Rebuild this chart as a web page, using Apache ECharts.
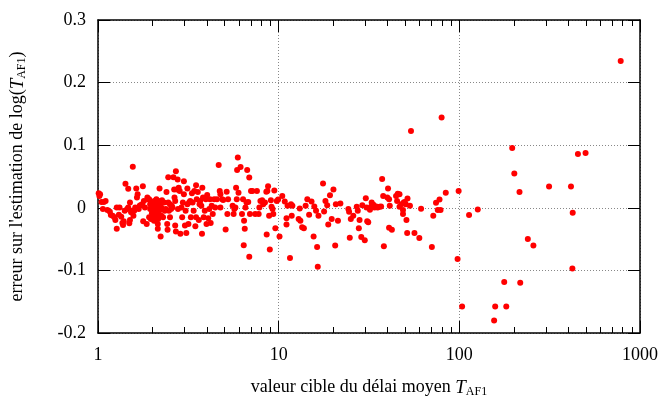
<!DOCTYPE html>
<html>
<head>
<meta charset="utf-8">
<script src="https://cdn.jsdelivr.net/npm/echarts@6/dist/echarts.min.js"></script>
<style>
  html, body { margin: 0; padding: 0; background: #fff; }
  #main { width: 663px; height: 403px; }
</style>
</head>
<body>
<div id="main"></div>
<script>
// valeur cible du délai moyen T_AF1 (axe x, log)
const targetDelay = [
  1.009, 1.027, 1.018, 1.045, 1.078, 1.102, 1.064, 1.127, 1.163, 1.178,
  1.205, 1.232, 1.248, 1.270, 1.270, 1.316, 1.305, 1.345, 1.364, 1.376,
  1.388, 1.406, 1.419, 1.451, 1.470, 1.470, 1.490, 1.503, 1.503, 1.524,
  1.544, 1.558, 1.571, 1.586, 1.607, 1.628, 1.643, 1.657, 1.680, 1.702,
  1.718, 1.756, 1.771, 1.779, 1.795, 1.819, 1.860, 1.876, 1.893, 1.919,
  1.919, 1.944, 1.962, 1.962, 1.979, 2.006, 2.006, 2.032, 2.050, 2.050,
  2.069, 2.096, 2.096, 2.124, 2.143, 2.143, 2.162, 2.191, 2.191, 2.221,
  2.240, 2.240, 2.261, 2.291, 2.321, 2.342, 2.373, 2.394, 2.416, 2.427,
  2.448, 2.448, 2.470, 2.503, 2.503, 2.537, 2.559, 2.582, 2.616, 2.640,
  2.651, 2.675, 2.675, 2.699, 2.699, 2.735, 2.759, 2.771, 2.796, 2.833,
  2.858, 2.897, 2.923, 2.949, 2.988, 2.988, 3.028, 3.055, 3.082, 3.123,
  3.123, 3.166, 3.194, 3.237, 3.266, 3.310, 3.339, 3.384, 3.414, 3.459,
  3.490, 3.490, 3.521, 3.568, 3.615, 3.648, 3.680, 3.730, 3.763, 3.780,
  3.813, 3.847, 3.899, 3.951, 3.986, 4.021, 4.075, 4.130, 4.167, 4.204,
  4.260, 4.317, 4.395, 4.454, 4.554, 4.656, 4.718, 4.760, 4.760, 4.867,
  4.932, 5.087, 5.155, 5.201, 5.248, 5.559, 5.634, 5.684, 5.760, 5.811,
  5.863, 5.888, 5.941, 5.994, 6.155, 6.266, 6.350, 6.406, 6.434, 6.491,
  6.549, 6.637, 6.695, 6.785, 6.875, 6.875, 6.936, 7.030, 7.155, 7.414,
  7.581, 7.750, 7.820, 7.924, 8.101, 8.210, 8.395, 8.546, 8.583, 8.659,
  8.737, 8.854, 8.932, 9.052, 9.132, 9.254, 9.337, 9.461, 9.587, 9.759,
  9.934, 10.11, 10.47, 10.81, 11.05, 11.05, 11.20, 11.55, 11.70, 11.81,
  11.91, 12.90, 13.08, 13.19, 13.49, 13.79, 14.10, 14.41, 14.74, 15.20,
  15.61, 15.75, 16.10, 16.32, 16.46, 16.61, 17.60, 17.84, 18.15, 18.56,
  18.81, 19.23, 19.66, 20.10, 20.55, 20.73, 21.29, 21.96, 24.31, 24.53,
  24.75, 25.08, 25.88, 27.05, 27.41, 27.78, 28.03, 28.66, 29.04, 29.96,
  30.36, 30.62, 30.90, 31.31, 32.01, 32.44, 32.73, 33.46, 33.91, 34.67,
  35.29, 36.24, 36.89, 37.39, 37.89, 38.22, 39.95, 40.30, 40.84, 40.84,
  41.21, 42.33, 44.64, 45.23, 45.63, 46.65, 46.65, 47.70, 48.77, 48.77,
  49.20, 49.86, 50.51, 50.97, 51.43, 51.66, 53.29, 54.0, 56.44, 60.06,
  61.42, 70.46, 71.74, 74.30, 75.98, 77.68, 78.71, 79.77, 84.13, 97.8,
  99.1, 103.6, 113.2, 126.5, 155.8, 157.9, 177.2, 181.9, 196.2, 201.5,
  215.3, 217.3, 239.4, 257.0, 313.8, 414.9, 422.3, 424.2, 453.3, 499.7,
  782,
  2.014, 2.032, 2.060, 2.078, 2.105, 2.124, 2.143, 2.172, 2.191, 2.211,
  1.988, 2.105, 2.153, 2.041, 2.270, 1.944, 2.087, 2.050
]

// erreur sur l'estimation de log(T_AF1) (axe y)
const estError = [
  0.0231, 0.0215, 0.0189, 0.0094, 0.0094, 0.0110, -0.0021, -0.0037, -0.0063, -0.0115,
  -0.0126, -0.0152, -0.0194, -0.0336, 0.0005, 0.0005, -0.0110, -0.0142, -0.0241, -0.0273,
  -0.0215, -0.0047, 0.0383, -0.0021, 0.0304, 0.0005, -0.0247, 0.0084, -0.0194, -0.0073,
  -0.0047, 0.0656, -0.0126, -0.0047, 0.0005, 0.0310, 0.0163, 0.0215, -0.0021, 0.0031,
  0.0042, 0.0058, 0.0346, -0.0215, 0.0110, 0.0005, -0.0257, 0.0163, 0.0136, -0.0152,
  0.0136, -0.0021, 0.0084, -0.0178, 0.0005, -0.0047, 0.0058, -0.0100, 0.0110, 0.0005,
  -0.0152, -0.0073, -0.0205, -0.0021, -0.0336, -0.0257, 0.0110, 0.0031, 0.0310, -0.0457,
  0.0005, -0.0126, 0.0121, -0.0152, 0.0084, -0.0047, -0.0021, 0.0252, -0.0257, -0.0352,
  0.0488, 0.0084, -0.0047, 0.0058, -0.0152, -0.0021, 0.0031, 0.0005, 0.0488, 0.0294,
  0.0163, 0.0110, -0.0283, 0.0583, -0.0378, 0.0294, 0.0451, -0.0021, 0.0320, 0.0268,
  -0.0415, 0.0005, -0.0152, 0.0084, 0.0425, 0.0215, -0.0283, -0.0047, -0.0404, 0.0058,
  0.0310, -0.0257, 0.0084, 0.0110, -0.0152, 0.0231, 0.0084, -0.0047, 0.0268, -0.0294,
  0.0362, -0.0152, 0.0136, 0.0252, -0.0194, 0.0058, 0.0110, 0.0031, -0.0415, 0.0320,
  0.0163, -0.0152, -0.0047, 0.0136, -0.0257, 0.0205, -0.0168, -0.0021, 0.0136, -0.0241,
  0.0031, -0.0100, 0.0136, 0.0005, 0.0136, 0.0682, 0.0268, 0.0215, 0.0005, 0.0136,
  0.0126, -0.0346, 0.0257, -0.0100, 0.0136, 0.0031, -0.0100, -0.0021, 0.0005, 0.0320,
  0.0136, 0.0604, 0.0803, 0.0241, 0.0651, -0.0100, 0.0136, -0.0598, -0.0205, -0.0336,
  0.0005, 0.0084, 0.0604, 0.0094, 0.0483, -0.0782, -0.0100, 0.0268, 0.0268, -0.0100,
  0.0268, -0.0100, 0.0005, 0.0110, 0.0121, 0.0058, 0.0084, 0.0257, -0.0425, 0.0268,
  0.0346, -0.0126, -0.0667, 0.0121, 0.0016, -0.0021, -0.0100, 0.0278, -0.0325, 0.0110,
  0.0131, -0.0457, 0.0189, 0.0100, -0.0168, -0.0268, 0.0031, -0.0803, 0.0058, -0.0126,
  0.0031, -0.0178, -0.0010, -0.0205, -0.0310, -0.0325, 0.0031, 0.0136, -0.0110, 0.0100,
  -0.0457, 0.0021, -0.0047, -0.0625, -0.0940, -0.0126, 0.0388, -0.0058, 0.0110, 0.0042,
  -0.0268, 0.0199, -0.0178, 0.0294, -0.0604, 0.0058, -0.0205, 0.0068, -0.0021, -0.0063,
  -0.0478, -0.0178, -0.0126, 0.0016, -0.0047, -0.0325, -0.0194, -0.0467, 0.0042, -0.0520,
  0.0152, 0.0005, -0.0215, -0.0231, -0.0031, 0.0016, 0.0084, 0.0047, 0.0005, 0.0021,
  0.0005, 0.0016, 0.0021, 0.0462, 0.0189, -0.0614, 0.0163, 0.0310, 0.0136, -0.0320,
  0.0031, -0.0352, 0.0189, 0.0110, 0.0226, 0.0215, 0.0016, 0.0058, -0.0037, -0.0100,
  0.0084, 0.0094, 0.0058, -0.0194, -0.0404, 0.0147, 0.0031, 0.1228, -0.0404, -0.0483,
  -0.0016, -0.0625, -0.0126, 0.0079, -0.0037, 0.0131, -0.0037, 0.1444, 0.0241, -0.0819,
  0.0268, -0.1575, -0.0115, -0.0026, -0.1800, -0.1575, -0.1186, -0.1575, 0.0955, 0.0546,
  0.0252, -0.1197, -0.0499, -0.0604, 0.0341, 0.0341, -0.0971, -0.0079, 0.0861, 0.0877,
  0.2346,
  -0.0021, -0.0037, 0.0031, -0.0126, -0.0100, 0.0058, -0.0047, -0.0100, -0.0037, 0.0084,
  -0.0089, 0.0136, -0.0178, -0.0205, -0.0021, 0.0058, -0.0021, -0.0110
]

// graduations mineures de l'axe log (2..9 par décade)
const minorTicks = [2, 3, 4, 5, 6, 7, 8, 9, 20, 30, 40, 50, 60, 70, 80, 90, 200, 300, 400, 500, 600, 700, 800, 900]

const points = targetDelay.map((x, i) => [x, estError[i]])

const font = 'Liberation Serif'
const black = '#000'
const frame = { show: true, onZero: false, lineStyle: { color: black, width: 1.5 } }
const tick = { show: true, inside: true, length: 12, lineStyle: { color: black, width: 1 } }
const gridLine = { show: true, lineStyle: { color: '#888', type: [1, 2], width: 1 } }
const nameRich = {
  i: { fontSize: 19, fontStyle: 'italic', fontFamily: font, color: black },
  s: { fontSize: 12, fontFamily: font, color: black, padding: [9, 0, 0, 0] }
}

const myChart = echarts.init(document.getElementById('main'))

const option = {
  animation: false,
  backgroundColor: '#fff',
  textStyle: { fontFamily: font },
  grid: { left: 97, right: 23, top: 20, bottom: 66 },
  xAxis: [
    {
      type: 'log',
      logBase: 10,
      min: 1,
      max: 1000,
      axisLine: frame,
      axisTick: tick,
      axisLabel: {
        color: black, fontSize: 18, fontFamily: font, margin: 13,
        formatter: v => String(Math.round(v))
      },
      splitLine: gridLine,
      name: 'valeur cible du délai moyen {i|T}{s|AF1}',
      nameLocation: 'middle',
      nameGap: 44,
      nameTextStyle: { color: black, fontSize: 18, fontFamily: font, rich: nameRich }
    },
    {
      type: 'log',
      logBase: 10,
      min: 1,
      max: 1000,
      position: 'top',
      axisLine: frame,
      axisTick: tick,
      axisLabel: { show: false },
      splitLine: { show: false }
    }
  ],
  yAxis: [
    {
      type: 'value',
      min: -0.2,
      max: 0.3,
      interval: 0.1,
      axisLine: frame,
      axisTick: tick,
      axisLabel: { color: black, fontSize: 18, fontFamily: font, margin: 12 },
      splitLine: gridLine,
      name: "erreur sur l'estimation de log({i|T}{s|AF1})",
      nameLocation: 'middle',
      nameGap: 70,
      nameTextStyle: { color: black, fontSize: 18, fontFamily: font, rich: nameRich }
    },
    {
      type: 'value',
      min: -0.2,
      max: 0.3,
      interval: 0.1,
      position: 'right',
      axisLine: frame,
      axisTick: tick,
      axisLabel: { show: false },
      splitLine: { show: false }
    }
  ],
  series: [
    {
      // graduations mineures, haut et bas
      type: 'custom',
      silent: true,
      xAxisIndex: 0,
      yAxisIndex: 0,
      data: minorTicks.map(v => [v, 0]),
      renderItem: function (params, api) {
        const x = Math.round(api.coord([api.value(0), 0])[0]) + 0.5
        const cs = params.coordSys
        const len = 6
        const st = { stroke: black, lineWidth: 1 }
        return {
          type: 'group',
          children: [
            { type: 'line', shape: { x1: x, y1: cs.y + cs.height, x2: x, y2: cs.y + cs.height - len }, style: st },
            { type: 'line', shape: { x1: x, y1: cs.y, x2: x, y2: cs.y + len }, style: st }
          ]
        }
      },
      z: 1
    },
    {
      type: 'scatter',
      xAxisIndex: 0,
      yAxisIndex: 0,
      data: points,
      symbol: 'circle',
      symbolSize: 6,
      itemStyle: { color: '#ff0000', opacity: 1 },
      z: 5
    }
  ]
}

myChart.setOption(option)
</script>
</body>
</html>
